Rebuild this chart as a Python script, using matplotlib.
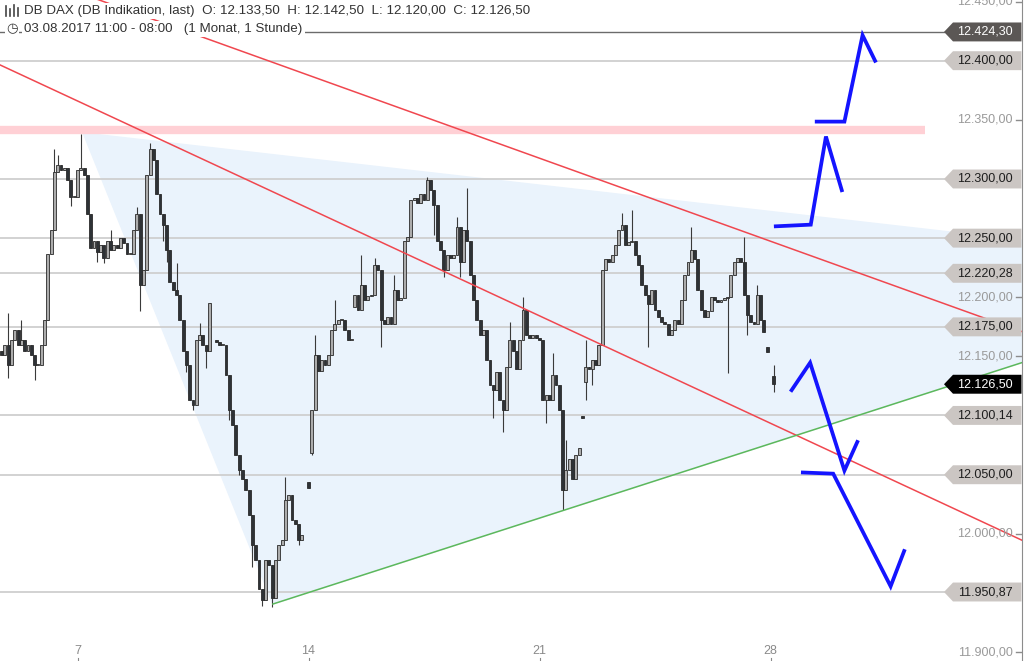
import numpy as np
import matplotlib.pyplot as plt
import matplotlib.transforms as mtransforms
from matplotlib.patches import Polygon
from matplotlib.lines import Line2D

plt.rcParams['font.family'] = ['Liberation Sans', 'DejaVu Sans']

nan = np.nan

# DB DAX hourly closes, one row per trading day (14 one-hour bars), nan = no quote
closes = [
    12151, 12160, 12143, 12164, 12172, 12160, 12164, 12155, 12160, 12151, 12143, 12143, 12160, 12181,
    12237, 12257, 12306, 12312, 12308, 12309, 12299, 12285, 12285, 12308, 12309, 12303, 12270, 12242,
    12248, 12238, 12244, 12233, 12248, 12240, 12244, 12242, 12250, 12246, 12237, 12237, 12257, 12270,
    12210, 12223, 12303, 12325, 12316, 12287, 12270, 12261, 12240, 12213, 12206, 12202, 12181, 12155,
    12143, 12113, 12109, 12164, 12168, 12160, 12155, 12195, nan, 12162, 12160, 12160, 12134, 12105,
    12092, 12067, 12054, 12046, 12037, 12016, 11991, 11978, 11953, 11944, 11978, 11974, 11946, 11978,
    11991, 11995, 12029, 12033, 12012, 12008, 11995, 11999, nan, 12039, 12105, 12151, 12138, 12147,
    12143, 12151, 12172, 12177, 12181, 12181, 12172, 12164, 12164, 12202, 12189, 12210, 12198, 12201,
    12202, 12227, 12223, 12181, 12177, 12183, 12177, 12206, 12198, 12199, 12248, 12251, 12282, 12284,
    12280, 12287, 12282, 12299, 12291, 12278, 12248, 12240, 12223, 12236, 12233, 12236, 12259, 12230,
    12257, 12248, 12219, 12198, 12181, 12168, 12172, 12147, 12126, 12122, 12137, 12113, 12105, 12141,
    12164, 12155, 12139, 12164, 12189, 12168, 12166, 12168, 12166, 12164, 12113, 12117, 12113, 12134,
    12126, 12105, 12037, 12054, 12063, 12046, 12067, 12073, 12098, 12141, 12139, 12147, 12143, 12160,
    12223, 12232, 12230, 12236, 12244, 12257, 12261, 12244, 12247, 12248, 12236, 12227, 12210, 12202,
    12194, 12206, 12189, 12183, 12179, 12177, 12168, 12172, 12181, 12177, 12198, 12219, 12230, 12240,
    12232, 12206, 12189, 12183, 12188, 12200, 12198, 12196, 12198, 12199, 12200, 12219, 12230, 12233,
    12230, 12202, 12185, 12179, 12177, 12202, 12181, 12171, 12154, nan, 12126.5,
]
first_open = 12155
# opens that do not follow the previous close (after a break)
gap_opens = {65: 12164, 93: 12044, 94: 12068, 107: 12192, 176: 12100, 177: 12128,
             232: 12158, 234: 12133.5}
# wick extremes sticking out of the body
wick_highs = {2: 12187, 6: 12181, 16: 12325, 17: 12320, 24: 12338, 33: 12257, 41: 12276,
              45: 12330, 53: 12229, 60: 12178, 86: 12048, 95: 12168, 101: 12198, 109: 12236,
              113: 12233, 119: 12219, 129: 12302, 138: 12268, 141: 12292, 154: 12179,
              158: 12200, 167: 12153, 171: 12079, 177: 12164, 188: 12271, 191: 12274,
              209: 12259, 225: 12251, 229: 12210, 234: 12142.5}
wick_lows = {2: 12132, 10: 12130, 21: 12277, 29: 12230, 31: 12229, 42: 12188, 49: 12248,
             50: 12230, 56: 12137, 58: 12105, 62: 12140, 69: 12096, 72: 12050, 76: 11972,
             79: 11939, 82: 11938, 90: 11991, 94: 12067, 115: 12158, 131: 12253, 134: 12217,
             139: 12217, 149: 12098, 152: 12086, 165: 12094, 170: 12020, 177: 12113,
             179: 12126, 196: 12158, 220: 12136, 226: 12168, 234: 12120}

# date axis
date_ticks = [23, 93, 163, 233]
date_labels = ['7', '14', '21', '28']

# price levels with tag, plain axis labels, last price, resistance zone
level_values = [12424.30, 12400.00, 12300.00, 12250.00, 12220.28, 12175.00, 12100.14, 12050.00, 11950.87]
axis_values = [12450, 12350, 12200, 12150, 12000, 11900]
last_price = 12126.50
resistance = 12341

# trend lines (bar index, price)
red_upper = ([25, 310], [12455.9, 12170.2])
red_lower = ([-1, 310], [12397.1, 11993.6])
green_support = ([82.2, 310], [11940.7, 12145.5])
triangle = ([24.7, 82.2, 310, 310], [12338.9, 11940.7, 12145.5, 12248.0])

# scenario arrows (bar index, price)
arrows = [
    ([247.0, 255.4, 260.9, 264.7], [12348.5, 12348.5, 12421.5, 12399.9]),
    ([234.6, 245.2, 249.8, 254.6], [12260.0, 12261.4, 12335.9, 12290.5]),
    ([239.4, 245.0, 255.4, 259.3], [12121.5, 12144.7, 12053.5, 12077.7]),
    ([242.8, 252.0, 269.4, 273.5], [12051.9, 12050.9, 11955.7, 11985.5]),
]


def de_fmt(v):
    s = f"{v:,.2f}"
    return s.replace(',', '#').replace('.', ',').replace('#', '.')


# build OHLC
n = len(closes)
x = np.arange(n)
c = np.array(closes, dtype=float)
o = np.empty(n)
prev = first_open
for i in range(n):
    o[i] = gap_opens.get(i, prev)
    if not np.isnan(c[i]):
        prev = c[i]
hi = np.fmax(o, c)
lo = np.fmin(o, c)
for i, v in wick_highs.items():
    hi[i] = v
for i, v in wick_lows.items():
    lo[i] = v
ok = ~np.isnan(c)

fig = plt.figure(figsize=(10.24, 6.61), dpi=100)
ax = fig.add_axes([0, 0, 1021.5 / 1024, 1])
ax.set_xlim(-0.485, 309.06)
ax.set_ylim(11892.55, 12451.3)
for side in ['top', 'left', 'bottom']:
    ax.spines[side].set_visible(False)
ax.spines['right'].set_color('#8c8c8c')
ax.set_xticks([])
ax.set_yticks([])

trans = mtransforms.blended_transform_factory(ax.transAxes, ax.transData)

# triangle area
ax.fill(triangle[0], triangle[1], color='#eaf3fc', zorder=0)

# resistance band
ax.plot([-1, 279.8], [resistance, resistance], color='#ffd0d5', lw=6, solid_capstyle='butt', zorder=1)

# level lines
tip = 944 / 1021.5
for v in level_values:
    col = '#6b6b6b' if v == level_values[0] else '#cfcfcf'
    ax.plot([0, tip], [v, v], transform=trans, color=col, lw=1.3 if v != level_values[0] else 1.0, zorder=1)

# candles
ax.vlines(x[ok], lo[ok], hi[ok], color='#3a3a3a', lw=0.8, zorder=3)
up = ok & (c >= o)
dn = ok & (c < o)
ax.bar(x[up], np.maximum(c - o, 0.6)[up], bottom=o[up], width=0.85, color='#acacac',
       edgecolor='#2b2b2b', lw=0.6, zorder=4)
ax.bar(x[dn], (o - c)[dn], bottom=c[dn], width=0.85, color='#2e3236',
       edgecolor='#2b2b2b', lw=0.6, zorder=4)

# trend lines
ax.plot(*red_upper, color='#f0474f', lw=1.1, zorder=5)
ax.plot(*red_lower, color='#f0474f', lw=1.1, zorder=5)
ax.plot(*green_support, color='#5cb85c', lw=1.1, zorder=5)

# scenario arrows
for ax_x, ax_y in arrows:
    ax.plot(ax_x, ax_y, color='#1414ff', lw=2.7, solid_joinstyle='miter', zorder=6)

# price tags
half = 8.0
x0, x1 = tip, 953 / 1021.5
for v in level_values + [last_price]:
    if v == last_price:
        fc, tc = '#000000', 'white'
    elif v == level_values[0]:
        fc, tc = '#5b5755', 'white'
    else:
        fc, tc = '#cbc6c3', '#1e1e1e'
    poly = Polygon([(x0, v), (x1, v + half), (1.0, v + half), (1.0, v - half), (x1, v - half)],
                   closed=True, transform=trans, facecolor=fc, edgecolor='none', zorder=7)
    ax.add_patch(poly)
    ax.text(1013 / 1021.5, v, de_fmt(v), transform=trans, ha='right', va='center',
            fontsize=9, color=tc, zorder=8)

for v in axis_values:
    ax.text(1013 / 1021.5, v, de_fmt(v), transform=trans, ha='right', va='center',
            fontsize=9, color='#9a9a9a', zorder=8)
    ax.plot([1016 / 1021.5, 1.0], [v, v], transform=trans, color='#8c8c8c', lw=1, zorder=8)

# date labels
for t, lab in zip(date_ticks, date_labels):
    ax.text(t, 11901, lab, ha='center', va='center', fontsize=9, color='#8a8a8a', zorder=8)
    ax.plot([t, t], [11892.6, 11895], color='#8a8a8a', lw=0.8, zorder=8)

# header
W, H = 1024, 661
fig.text(24 / W, 1 - 11 / H, "DB DAX (DB Indikation, last)  O: 12.133,50  H: 12.142,50  "
         "L: 12.120,00  C: 12.126,50", fontsize=9.6, color='#333333', va='center', ha='left',
         bbox=dict(facecolor='white', edgecolor='none', pad=1.5))
fig.text(24 / W, 1 - 29 / H, "03.08.2017 11:00 - 08:00   (1 Monat, 1 Stunde)", fontsize=9.6,
         color='#333333', va='center', ha='left',
         bbox=dict(facecolor='white', edgecolor='none', pad=1.5))
fig.text(6 / W, 1 - 29 / H, "\u25f7", fontsize=9.5, color='#333333', va='center', ha='left',
         family='DejaVu Sans', bbox=dict(facecolor='white', edgecolor='none', pad=1.0))
for bx, by0, by1 in [(6, 6, 16), (10, 9, 16), (14, 5, 16), (18, 8, 16)]:
    fig.add_artist(Line2D([bx / W, bx / W], [1 - by1 / H, 1 - by0 / H], color='#444444', lw=1.2))

fig.savefig('out.png', dpi=100)
